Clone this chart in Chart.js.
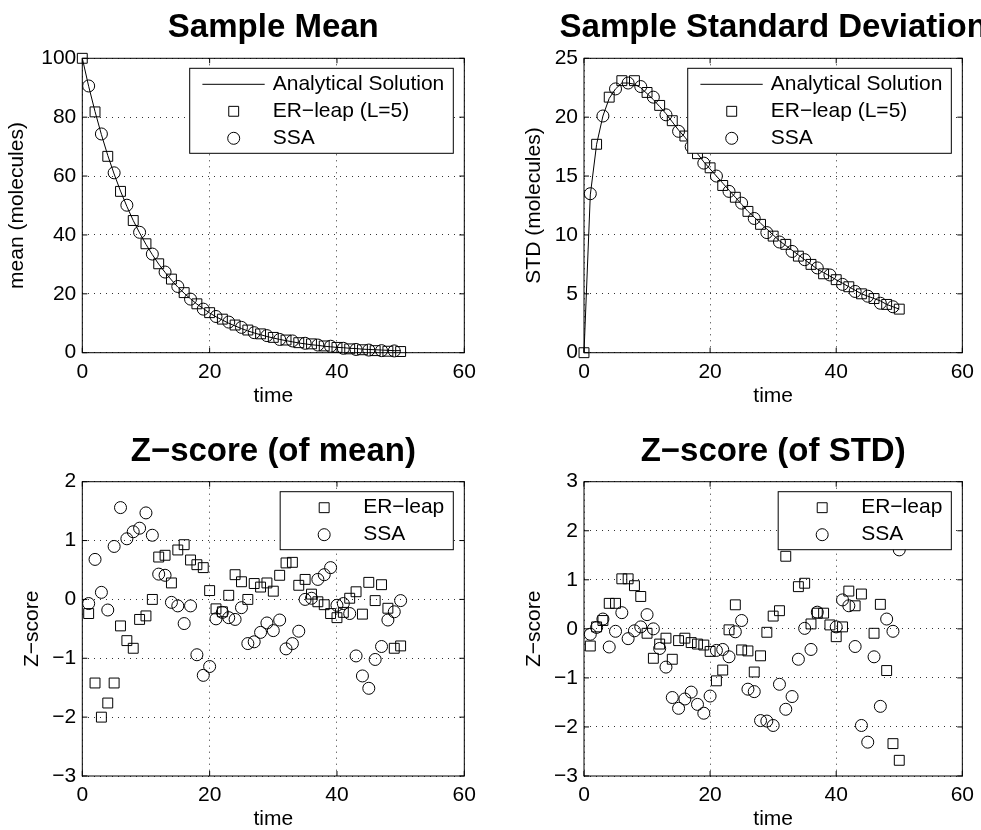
<!DOCTYPE html>
<html>
<head>
<meta charset="utf-8">
<title>ER-leap vs SSA</title>
<script src="https://cdn.jsdelivr.net/npm/chart.js"></script>
<style>
  html, body { margin: 0; padding: 0; background: #fff; }
  #fig { position: relative; width: 981px; height: 830px; overflow: hidden; }
  #fig canvas { position: absolute; }
</style>
</head>
<body>
<div id="fig">
  <canvas id="meanChart" width="490" height="415" style="left:0;top:0"></canvas>
  <canvas id="stdChart" width="491" height="415" style="left:490px;top:0"></canvas>
  <canvas id="zMeanChart" width="490" height="407" style="left:0;top:423px"></canvas>
  <canvas id="zStdChart" width="491" height="407" style="left:490px;top:423px"></canvas>
</div>
<script>
// sample times
const analyticTimes = [0, 1, 2, 3, 4, 5, 6, 7, 8, 9, 10, 11, 12, 13, 14, 15, 16, 17, 18, 19, 20,
  21, 22, 23, 24, 25, 26, 27, 28, 29, 30, 31, 32, 33, 34, 35, 36, 37, 38, 39, 40,
  41, 42, 43, 44, 45, 46, 47, 48, 49, 50];
const erTimes = [0, 2, 4, 6, 8, 10, 12, 14, 16, 18, 20, 22, 24, 26, 28, 30, 32, 34, 36, 38, 40,
  42, 44, 46, 48, 50];
const ssaTimes = [1, 3, 5, 7, 9, 11, 13, 15, 17, 19, 21, 23, 25, 27, 29, 31, 33, 35, 37, 39,
  41, 43, 45, 47, 49];
const zTimes = [1, 2, 3, 4, 5, 6, 7, 8, 9, 10, 11, 12, 13, 14, 15, 16, 17, 18, 19, 20,
  21, 22, 23, 24, 25, 26, 27, 28, 29, 30, 31, 32, 33, 34, 35, 36, 37, 38, 39, 40,
  41, 42, 43, 44, 45, 46, 47, 48, 49, 50];

// sample mean (molecules)
const meanAnalytic = [100, 90.5, 81.9, 74.1, 67.0, 60.7, 54.9, 49.7, 44.9, 40.7, 36.8,
  33.3, 30.1, 27.3, 24.7, 22.3, 20.2, 18.3, 16.5, 15.0, 13.5, 12.2, 11.1, 10.0, 9.1, 8.2,
  7.4, 6.7, 6.1, 5.5, 5.0, 4.5, 4.1, 3.7, 3.3, 3.0, 2.7, 2.5, 2.2, 2.0, 1.8, 1.7, 1.5,
  1.4, 1.2, 1.1, 1.0, 0.9, 0.8, 0.7, 0.7];
const meanER = [100, 81.8, 66.7, 54.8, 44.9, 37.0, 30.2, 25.0, 20.4, 16.6, 13.6, 11.4, 9.4,
  7.7, 6.4, 5.2, 4.3, 3.4, 3.0, 2.3, 1.8, 1.3, 1.0, 0.7, 0.5, 0.4];
const meanSSA = [90.6, 74.3, 61.1, 50.1, 40.9, 33.5, 27.4, 22.5, 18.2, 14.8, 12.3, 10.4, 8.6,
  6.8, 5.8, 4.5, 4.0, 3.2, 2.6, 2.2, 1.5, 1.1, 0.9, 0.7, 0.6];

// sample standard deviation (molecules)
const stdAnalytic = [0, 13.4, 17.7, 20.1, 21.6, 22.4, 22.9, 22.9, 22.8, 22.5, 22.0, 21.5,
  20.9, 20.3, 19.6, 18.9, 18.3, 17.6, 16.9, 16.2, 15.6, 15.0, 14.4, 13.8, 13.2, 12.6, 12.0,
  11.5, 11.0, 10.5, 10.0, 9.5, 9.1, 8.7, 8.3, 7.9, 7.5, 7.1, 6.8, 6.5, 6.2, 5.9, 5.6, 5.3,
  5.0, 4.8, 4.6, 4.4, 4.1, 3.9, 3.7];
const stdER = [0, 17.7, 21.7, 23.1, 23.1, 22.1, 21.0, 19.7, 18.4, 16.9, 15.7, 14.2, 13.2,
  12.0, 10.9, 9.9, 9.2, 8.2, 7.5, 6.7, 6.2, 5.6, 5.0, 4.6, 4.1, 3.7];
const stdSSA = [13.5, 20.1, 22.4, 22.9, 22.6, 21.7, 20.2, 18.8, 17.5, 16.1, 15.0, 13.7, 12.7,
  11.4, 10.2, 9.4, 8.6, 7.9, 7.2, 6.6, 5.8, 5.2, 4.8, 4.2, 3.9];

// z-scores of the mean
const zMeanER = [-0.24, -1.42, -2.0, -1.76, -1.42, -0.45, -0.7, -0.83, -0.34, -0.28,
  0.0, 0.72, 0.75, 0.28, 0.84, 0.93, 0.67, 0.59, 0.54, 0.15,
  -0.16, -0.21, 0.07, 0.42, 0.30, 0.0, 0.27, 0.21, 0.28, 0.14,
  0.41, 0.62, 0.63, 0.24, 0.34, 0.09, -0.04, -0.09, -0.24, -0.31,
  -0.22, 0.02, 0.13, -0.25, 0.29, -0.02, 0.25, -0.15, -0.83, -0.79];
const zMeanSSA = [-0.07, 0.68, 0.12, -0.18, 0.9, 1.56, 1.03, 1.15, 1.21, 1.47,
  1.09, 0.43, 0.41, -0.05, -0.11, -0.41, -0.11, -0.94, -1.29, -1.14,
  -0.33, -0.22, -0.31, -0.34, -0.14, -0.75, -0.72, -0.56, -0.4, -0.53,
  -0.35, -0.84, -0.75, -0.54, 0.0, 0.02, 0.34, 0.42, 0.54, -0.1,
  -0.07, -0.24, -0.96, -1.3, -1.51, -1.02, -0.8, -0.35, -0.21, -0.02];

// z-scores of the STD
const zStdER = [-0.35, 0.04, 0.17, 0.52, 0.52, 1.02, 1.02, 0.88, 0.66, -0.09,
  -0.6, -0.31, -0.19, -0.62, -0.24, -0.19, -0.28, -0.31, -0.33, -0.46,
  -1.06, -0.84, -0.02, 0.49, -0.43, -0.45, -0.88, -0.55, -0.07, 0.26,
  0.37, 1.48, 2.4, 0.86, 0.93, 0.1, 0.32, 0.32, 0.08, -0.16,
  0.04, 0.77, 0.47, 0.71, 2.0, -0.09, 0.5, -0.85, -2.34, -2.68];
const zStdSSA = [-0.11, 0.03, 0.2, -0.37, -0.05, 0.33, -0.2, -0.04, 0.04, 0.29,
  0.0, -0.4, -0.78, -1.4, -1.62, -1.43, -1.29, -1.54, -1.72, -1.37,
  -0.44, -0.42, -0.57, -0.06, 0.17, -1.23, -1.28, -1.87, -1.88, -1.97,
  -1.13, -1.64, -1.38, -0.62, 0.01, -0.42, 0.34, 2.1, 1.9, 0.04,
  0.59, 0.47, -0.36, -1.97, -2.31, -0.57, -1.58, 0.2, -0.05, 1.61];

const FONT = '"Liberation Sans", Arial, Helvetica, sans-serif';
Chart.defaults.font.family = FONT;
Chart.defaults.color = '#000';

const xy = (xs, ys) => xs.map((x, i) => ({ x: x, y: ys[i] }));

const lineSet = (label, xs, ys) => ({
  label, data: xy(xs, ys), showLine: true, borderColor: '#000', borderWidth: 1,
  pointRadius: 0, clip: false
});
const markerSet = (label, xs, ys, style, r) => ({
  label, data: xy(xs, ys), showLine: false, pointStyle: style, pointRadius: r,
  borderColor: '#000', backgroundColor: 'rgba(0,0,0,0)', borderWidth: 1, clip: false
});

// small hand-drawn legend glyph, matches the point styles above
function glyph(ctx, style, r, x, y) {
  ctx.beginPath();
  if (style === 'rect') {
    const s = r * Math.SQRT1_2;
    ctx.rect(x - s, y - s, 2 * s, 2 * s);
  } else {
    ctx.arc(x, y, r, 0, Math.PI * 2);
  }
  ctx.stroke();
}

// MATLAB-like frame: full box, inward ticks, boxed legend and title
const frame = {
  id: 'frame',
  afterDatasetsDraw(chart, args, opts) {
    const { ctx, chartArea: a } = chart;
    const sx = chart.scales.x, sy = chart.scales.y;
    ctx.save();
    ctx.strokeStyle = '#000';
    ctx.lineWidth = 1;
    ctx.strokeRect(a.left, a.top, a.right - a.left, a.bottom - a.top);
    ctx.beginPath();
    sx.ticks.forEach(t => {
      const p = sx.getPixelForValue(t.value);
      ctx.moveTo(p, a.bottom); ctx.lineTo(p, a.bottom - 5);
      ctx.moveTo(p, a.top); ctx.lineTo(p, a.top + 5);
    });
    sy.ticks.forEach(t => {
      const p = sy.getPixelForValue(t.value);
      ctx.moveTo(a.left, p); ctx.lineTo(a.left + 5, p);
      ctx.moveTo(a.right, p); ctx.lineTo(a.right - 5, p);
    });
    ctx.stroke();

    // legend
    const items = chart.data.datasets;
    ctx.font = '21px ' + FONT;
    const textW = Math.max(...items.map(d => ctx.measureText(d.label).width));
    const w = 83 + textW + 9;
    const h = 31 + 27 * (items.length - 1);
    const lx = a.right - 11 - w, ly = a.top + 10;
    ctx.fillStyle = '#fff';
    ctx.fillRect(lx, ly, w, h);
    ctx.strokeRect(lx, ly, w, h);
    items.forEach((d, i) => {
      const cy = ly + 16 + 27 * i;
      if (d.showLine) {
        ctx.beginPath();
        ctx.moveTo(lx + 12.7, cy); ctx.lineTo(lx + 75, cy);
        ctx.stroke();
      } else {
        glyph(ctx, d.pointStyle, d.pointRadius, lx + 44, cy);
      }
      ctx.fillStyle = '#000';
      ctx.textAlign = 'left';
      ctx.textBaseline = 'middle';
      ctx.fillText(d.label, lx + 83, cy);
    });
    ctx.restore();
  },
  afterDraw(chart, args, opts) {
    const { ctx, chartArea: a } = chart;
    ctx.save();
    ctx.font = 'bold 33px ' + FONT;
    ctx.fillStyle = '#000';
    ctx.textAlign = 'center';
    ctx.textBaseline = 'alphabetic';
    ctx.fillText(opts.title, (a.left + a.right) / 2, a.top - 21);
    ctx.restore();
  }
};

const gridOpts = { color: '#333', lineWidth: 1, drawTicks: false };
const borderOpts = { display: false, dash: [1, 5] };
const minus = v => String(v).replace('-', '\u2212');

function makePanel(id, box, cfg) {
  const canvas = document.getElementById(id);
  const W = canvas.width, H = canvas.height;
  return new Chart(canvas, {
    type: 'scatter',
    data: { datasets: cfg.datasets },
    options: {
      responsive: false,
      animation: false,
      events: [],
      layout: { padding: { left: 0, top: box.top, right: W - box.right, bottom: 0 } },
      plugins: {
        legend: { display: false },
        tooltip: { enabled: false },
        frame: { title: cfg.title }
      },
      scales: {
        x: {
          type: 'linear', min: 0, max: 60,
          afterFit: s => { s.height = H - box.bottom; },
          ticks: { stepSize: 20, padding: 7, font: { size: 21 }, maxRotation: 0 },
          grid: gridOpts,
          border: borderOpts,
          title: { display: true, text: 'time', font: { size: 21, lineHeight: 1 },
            padding: { top: 0, bottom: box.xPad } }
        },
        y: {
          min: cfg.yMin, max: cfg.yMax,
          afterFit: s => { s.width = box.left; },
          ticks: { stepSize: cfg.yStep, padding: 6, font: { size: 21 }, callback: minus },
          grid: gridOpts,
          border: borderOpts,
          title: { display: true, text: cfg.yLabel, font: { size: 21, lineHeight: 1 },
            padding: { top: box.yPad, bottom: 0 } }
        }
      }
    },
    plugins: [frame]
  });
}

makePanel('meanChart', { left: 82.3, top: 58.3, right: 464.3, bottom: 352.7, xPad: 7.8, yPad: 7 }, {
  title: 'Sample Mean', yLabel: 'mean (molecules)', yMin: 0, yMax: 100, yStep: 20,
  datasets: [
    lineSet('Analytical Solution', analyticTimes, meanAnalytic),
    markerSet('ER\u2212leap (L=5)', erTimes, meanER, 'rect', 7),
    markerSet('SSA', ssaTimes, meanSSA, 'circle', 6)
  ]
});

makePanel('stdChart', { left: 94, top: 58.3, right: 476, bottom: 352.7, xPad: 7.8, yPad: 34 }, {
  title: 'Sample Standard Deviation', yLabel: 'STD (molecules)', yMin: 0, yMax: 25, yStep: 5,
  datasets: [
    lineSet('Analytical Solution', analyticTimes, stdAnalytic),
    markerSet('ER\u2212leap (L=5)', erTimes, stdER, 'rect', 7),
    markerSet('SSA', ssaTimes, stdSSA, 'circle', 6)
  ]
});

makePanel('zMeanChart', { left: 82.3, top: 58.7, right: 464.3, bottom: 353, xPad: 0, yPad: 22 }, {
  title: 'Z\u2212score (of mean)', yLabel: 'Z\u2212score', yMin: -3, yMax: 2, yStep: 1,
  datasets: [
    markerSet('ER\u2212leap', zTimes, zMeanER, 'rect', 7),
    markerSet('SSA', zTimes, zMeanSSA, 'circle', 6)
  ]
});

makePanel('zStdChart', { left: 94, top: 58.7, right: 476, bottom: 353, xPad: 0, yPad: 34 }, {
  title: 'Z\u2212score (of STD)', yLabel: 'Z\u2212score', yMin: -3, yMax: 3, yStep: 1,
  datasets: [
    markerSet('ER\u2212leap', zTimes, zStdER, 'rect', 7),
    markerSet('SSA', zTimes, zStdSSA, 'circle', 6)
  ]
});
</script>
</body>
</html>
